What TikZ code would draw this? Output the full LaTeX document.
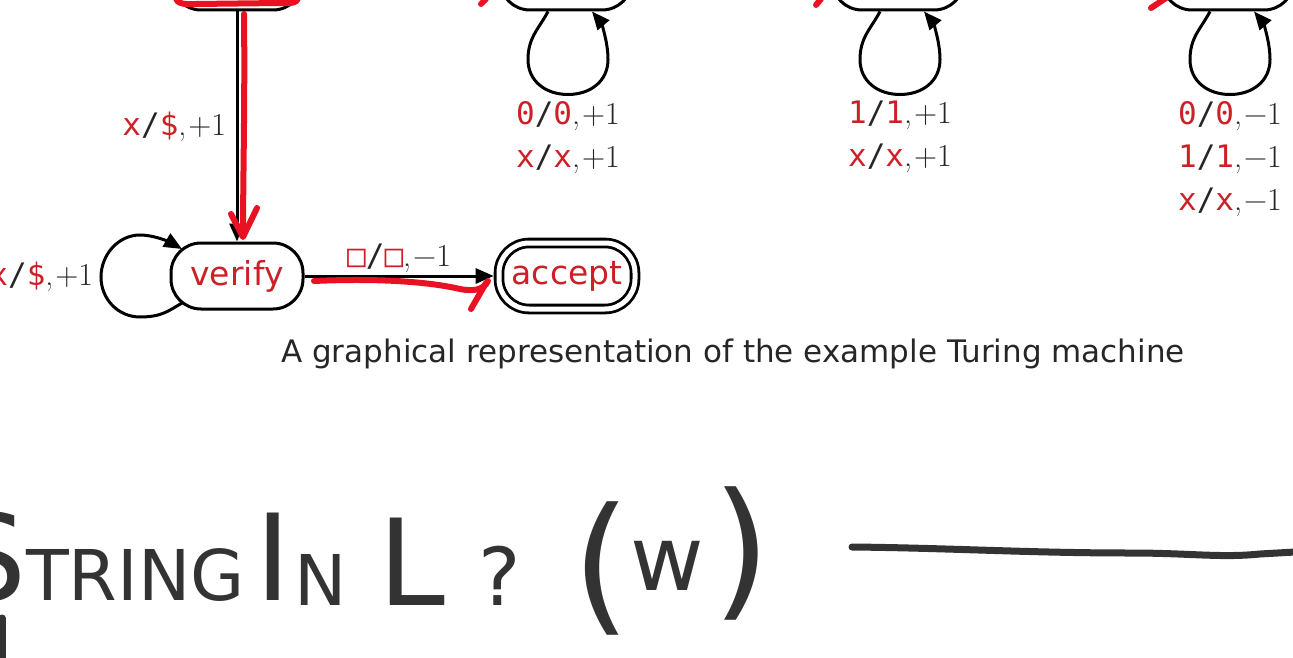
\documentclass[tikz,border=0pt]{standalone}
\usepackage{fontspec}
\setmainfont{DejaVu Sans}
\newfontfamily\monofont{DejaVu Sans Mono}
\newfontfamily\lmfont{Latin Modern Roman}
\usetikzlibrary{arrows.meta}
\definecolor{tmred}{RGB}{204,32,39}
\definecolor{inkred}{RGB}{234,18,34}
\definecolor{inkgray}{RGB}{51,51,51}
\newcommand\tmsym[1]{{\color{tmred}\monofont #1}}
\newcommand\tmrule[3]{\tmsym{#1}{\monofont/}\tmsym{#2}{\lmfont\fontsize{32}{43}\selectfont ,\kern2pt#3}}
\tikzset{
  tmstate/.style={draw, line width=3pt, rounded corners=30pt, minimum width=132pt, minimum height=66pt, text=tmred, font=\fontsize{33}{40}\selectfont},
  tmaccept/.style={tmstate, double, double distance=5pt, line width=2.8pt, minimum width=136pt, outer sep=5.3pt},
  tmedge/.style={line width=3pt, -{Triangle[length=18pt,width=15pt]}},
  tmlabel/.style={font=\fontsize{31}{43}\selectfont, align=center, text=black!85},
  inkmark/.style={draw=inkred, line width=6pt, line cap=round, line join=round},
  handink/.style={draw=inkgray, line width=7pt, line cap=round},
  handtext/.style={text=inkgray, inner sep=0pt, anchor=base west}
}
\begin{document}
\begin{tikzpicture}[x=1pt,y=1pt]
\useasboundingbox (0,0) rectangle (1293,-658);
\clip (0,0) rectangle (1293,-658);
\node[tmstate] (s1) at (237,23) {};
\node[tmstate] (s2) at (566,23) {};
\node[tmstate] (s3) at (898,23) {};
\node[tmstate] (s4) at (1228,23) {};
\node[tmstate] (verify) at (237,-276) {verify};
\node[tmaccept] (accept) at (567,-276) {accept};
\draw[tmedge] (s1) -- node[tmlabel, left=6pt] {\tmrule{x}{\$}{+1}} (verify);
\draw[tmedge] (verify) -- node[tmlabel, above=-2pt] {\tmrule{□}{□}{−1}} (accept);
\draw[tmedge] ([xshift=-55pt,yshift=-27pt]verify.center) .. controls +(-150:15) and +(0:22) .. ([xshift=-97pt,yshift=-41pt]verify.center) .. controls +(180:22) and +(-90:22) .. ([xshift=-136pt,yshift=-1pt]verify.center) node[tmlabel, left=3pt] {\tmrule{x}{\$}{+1}} .. controls +(90:22) and +(180:22) .. ([xshift=-97pt,yshift=41pt]verify.center) .. controls +(0:16) and +(150:10) .. ([xshift=-55pt,yshift=27pt]verify.center);
\draw[tmedge] ([xshift=-18pt]s2.south) .. controls +(-118:20) and +(90:22) .. ([xshift=-38pt,yshift=-48pt]s2.south) .. controls +(-90:22) and +(180:22) .. ([xshift=2pt,yshift=-83pt]s2.south) node[tmlabel, below=2pt] {\tmrule{0}{0}{+1}\\\tmrule{x}{x}{+1}} .. controls +(0:22) and +(-90:22) .. ([xshift=42pt,yshift=-48pt]s2.south) .. controls +(90:20) and +(-50:12) .. ([xshift=26pt]s2.south);
\draw[tmedge] ([xshift=-18pt]s3.south) .. controls +(-118:20) and +(90:22) .. ([xshift=-38pt,yshift=-48pt]s3.south) .. controls +(-90:22) and +(180:22) .. ([xshift=2pt,yshift=-83pt]s3.south) node[tmlabel, below=2pt] {\tmrule{1}{1}{+1}\\\tmrule{x}{x}{+1}} .. controls +(0:22) and +(-90:22) .. ([xshift=42pt,yshift=-48pt]s3.south) .. controls +(90:20) and +(-50:12) .. ([xshift=26pt]s3.south);
\draw[tmedge] ([xshift=-18pt]s4.south) .. controls +(-118:20) and +(90:22) .. ([xshift=-38pt,yshift=-48pt]s4.south) .. controls +(-90:22) and +(180:22) .. ([xshift=2pt,yshift=-83pt]s4.south) node[tmlabel, below=2pt] {\tmrule{0}{0}{−1}\\\tmrule{1}{1}{−1}\\\tmrule{x}{x}{−1}} .. controls +(0:22) and +(-90:22) .. ([xshift=42pt,yshift=-48pt]s4.south) .. controls +(90:20) and +(-50:12) .. ([xshift=26pt]s4.south);
\node[font=\fontsize{31}{36}\selectfont, text=black!85] (caption) at (733,-354) {A graphical representation of the example Turing machine};
\draw[inkmark] (176,3) to[out=-90,in=180] (196,-4) -- (280,-3) to[out=0,in=-90] (298,3);
\draw[inkmark] (244,-14) .. controls (245,-100) and (243,-180) .. (243,-236);
\draw[inkmark] (231,-214) -- (243,-237) -- (257,-208);
\draw[inkmark] (314,-281) .. controls (380,-278) and (430,-282) .. (460,-289) .. controls (475,-292) and (484,-289) .. (488,-281);
\draw[inkmark] (486,-283) -- (471,-309);
\draw[inkmark] (481,-4) -- (486,1);
\draw[inkmark] (816,-5) -- (821,1);
\draw[inkmark] (1151,-8) -- (1166,2);
\node[handtext] (hwS) at (-50,-600) {\fontsize{120}{120}\selectfont S};
\node[handtext] (hwTring) at (26,-600) {\fontsize{70}{70}\selectfont TRING};
\node[handtext] (hwI) at (255,-600) {\fontsize{120}{120}\selectfont I};
\node[handtext] (hwN) at (294,-605) {\fontsize{70}{70}\selectfont N};
\node[handtext] (hwL) at (378,-605) {\fontsize{120}{120}\selectfont L};
\node[handtext] (hwQ) at (478,-605) {\fontsize{80}{80}\selectfont ?};
\node[handtext] (hwOpen) at (572,-615) {\fontsize{150}{150}\selectfont (};
\node[handtext] (hwW) at (630,-590) {\fontsize{90}{90}\selectfont w};
\node[handtext] (hwClose) at (712,-600) {\fontsize{150}{150}\selectfont )};
\draw[handink] (852,-547) .. controls (950,-548) and (1030,-553) .. (1130,-553) .. controls (1190,-553) and (1220,-558) .. (1260,-554) -- (1295,-552);
\draw[handink] (2,-618) -- (2,-662);
\end{tikzpicture}
\end{document}
